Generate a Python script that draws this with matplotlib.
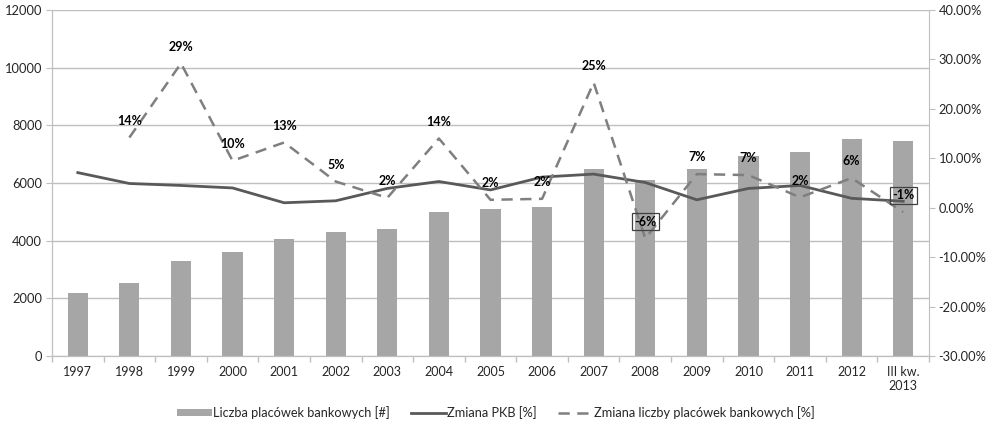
import matplotlib
matplotlib.use("Agg")
import matplotlib.pyplot as plt
import numpy as np
from matplotlib.ticker import FuncFormatter, FixedLocator

plt.rcParams['font.family'] = ['Lato', 'DejaVu Sans']

categories = ["1997", "1998", "1999", "2000", "2001", "2002", "2003", "2004",
              "2005", "2006", "2007", "2008", "2009", "2010", "2011", "2012",
              "III kw.\n2013"]

branches = [2200, 2530, 3300, 3600, 4070, 4300, 4400, 5000,
            5090, 5180, 6480, 6100, 6490, 6940, 7090, 7530, 7470]

gdp_change = [7.1, 4.9, 4.5, 4.0, 1.0, 1.4, 3.9, 5.3,
              3.6, 6.2, 6.8, 5.1, 1.6, 3.9, 4.5, 1.9, 1.3]

# branch count change starts in 1998
branch_change = [np.nan, 14.2, 29.2, 9.5, 13.2, 5.3, 2.0, 14.0,
                 1.6, 1.8, 25.3, -6.2, 6.8, 6.6, 2.1, 6.0, -0.9]

boxed_labels = {11, 16}

x = np.arange(len(categories))
text_color = "#262626"
grid_color = "#BFBFBF"

fig = plt.figure(figsize=(9.86, 4.24), dpi=100)
ax = fig.add_axes([52 / 986, 68 / 424, 877 / 986, 346 / 424])
ax2 = ax.twinx()

bars = ax.bar(x, branches, width=0.39, color="#A6A6A6", zorder=2,
              label="Liczba placówek bankowych [#]")
ax.set_xlim(-0.5, len(categories) - 0.5)
ax.set_ylim(0, 12000)
ax.set_yticks(np.arange(0, 12001, 2000))
ax.yaxis.grid(True, color=grid_color, linewidth=1.0, zorder=0)
ax.set_axisbelow(True)

ax.set_xticks(x)
ax.set_xticklabels(categories)
ax.xaxis.set_minor_locator(FixedLocator(np.arange(-0.5, len(categories), 1.0)))
ax.tick_params(axis="x", which="major", length=0, pad=7, labelsize=9,
               labelcolor=text_color)
ax.tick_params(axis="x", which="minor", length=4, color=grid_color, width=1)
ax.tick_params(axis="y", length=4, color=grid_color, pad=3, labelsize=9.3,
               labelcolor=text_color)

ax.spines["top"].set_visible(False)
ax2.spines["top"].set_visible(False)
for sp in ["left", "bottom", "right"]:
    ax.spines[sp].set_color(grid_color)
    ax2.spines[sp].set_color(grid_color)
ax.spines["right"].set_visible(False)

gdp_line, = ax2.plot(x, gdp_change, color="#595959", linewidth=2.0,
                     solid_joinstyle="round", label="Zmiana PKB [%]", zorder=3)
chg_line, = ax2.plot(x, branch_change, color="#7F7F7F", linewidth=1.8,
                     dashes=(4.5, 3.0), label="Zmiana liczby placówek bankowych [%]",
                     zorder=4)

ax2.set_ylim(-30, 40)
ax2.set_yticks(np.arange(-30, 41, 10))
ax2.yaxis.set_major_formatter(FuncFormatter(lambda v, p: f"{v:.2f}%"))
ax2.tick_params(axis="y", length=4, color=grid_color, pad=3, labelsize=9.3,
                labelcolor=text_color)

for i, v in enumerate(branch_change):
    if np.isnan(v):
        continue
    label = f"{int(round(v))}%"
    kw = dict(ha="center", va="center", fontsize=9, fontweight="bold",
              color="#000000", zorder=6)
    if i in boxed_labels:
        kw["bbox"] = dict(boxstyle="square,pad=0.2", facecolor="none",
                          edgecolor="#404040", linewidth=0.9)
    ax2.annotate(label, (x[i], v), xytext=(0, 12), textcoords="offset points", **kw)

fig.legend(handles=[bars, gdp_line, chg_line], loc="center",
           bbox_to_anchor=(0.503, 11 / 424), ncol=3, frameon=False, fontsize=9.2,
           handlelength=2.7, handleheight=0.45, handletextpad=0.1,
           columnspacing=1.7, labelcolor=text_color)

fig.savefig("out.png", dpi=100)
